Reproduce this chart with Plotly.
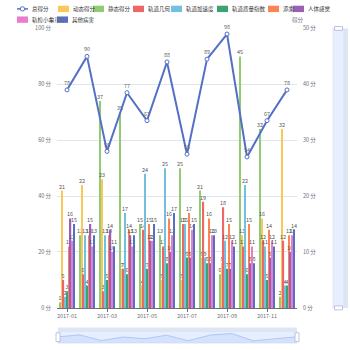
import plotly.graph_objects as go

W = H = 350

# ---------------- data ----------------
months = ['2017-01', '2017-02', '2017-03', '2017-04', '2017-05', '2017-06',
          '2017-07', '2017-08', '2017-09', '2017-10', '2017-11', '2017-12']
tick_months = months[::2]

total_score = [78, 90, 56, 77, 67, 88, 55, 89, 98, 54, 67, 78]

static_score = [1, 13, 37, 35, 15, 13, 25, 21, 6, 45, 32, 2]
dynamic_score = [21, 22, 23, 7, 4, 5, 5, 9, 8, 13, 16, 32]
track_geometry = [5, 6, 3, 7, 14, 11, 15, 19, 18, 11, 12, 12]
track_accel = [2, 13, 13, 17, 24, 25, 15, 9, 12, 22, 11, 4]
track_tqi = [3, 4, 5, 6, 7, 8, 9, 8, 7, 6, 5, 4]
cab_ride = [11, 13, 13, 14, 15, 16, 17, 16, 15, 15, 14, 13]
body_feel = [16, 15, 14, 13, 12, 10, 9, 8, 7, 8, 9, 10]
trolley = [12, 11, 10, 11, 12, 13, 14, 13, 12, 11, 12, 13]
other_defects = [15, 13, 11, 13, 15, 17, 15, 13, 11, 8, 11, 14]

bar_names = ['静态得分', '动态得分', '轨道几何', '轨道加速度', '轨道质量指数',
             '添乘', '人体感觉', '轨检小车', '其他病害']
bar_values = [static_score, dynamic_score, track_geometry, track_accel, track_tqi,
              cab_ride, body_feel, trolley, other_defects]
bar_colors = ['#91cc75', '#fac858', '#ee6666', '#73c0de', '#3ba272',
              '#fc8452', '#9a60b4', '#ea7ccc', '#5470c6']
line_name = '总得分'
line_color = '#5470c6'

legend_names = ['总得分', '动态得分', '静态得分', '轨道几何', '轨道加速度',
                '轨道质量指数', '添乘', '人体感觉', '轨检小车', '其他病害']
legend_colors = [line_color, '#fac858', '#91cc75', '#ee6666', '#73c0de',
                 '#3ba272', '#fc8452', '#9a60b4', '#ea7ccc', '#5470c6']

# ---------------- styling / layout helpers ----------------
FONT = 'Noto Sans CJK SC, sans-serif'
AXIS_C = '#6E7079'
FS = 5.5


def px(x):
    return x / W


def py(y):
    return 1 - y / H


PLOT_L, PLOT_R, PLOT_T, PLOT_B = 57, 297, 25, 311

fig = go.Figure()

for name, vals, col in zip(bar_names, bar_values, bar_colors):
    fig.add_trace(go.Bar(
        x=months, y=vals, name=name,
        marker=dict(color=col, line=dict(width=0)),
        text=vals, textposition='outside', textangle=0,
        constraintext='none', cliponaxis=False,
        textfont=dict(size=FS, color='#555', family=FONT),
        xaxis='x', yaxis='y'))

fig.add_trace(go.Scatter(
    x=months, y=total_score, name=line_name,
    mode='lines+markers+text', text=total_score, textposition='top center',
    line=dict(color=line_color, width=2),
    marker=dict(size=4, color='white', line=dict(color=line_color, width=1)),
    textfont=dict(size=FS, color='#666', family=FONT),
    cliponaxis=False, xaxis='x', yaxis='y2'))

# data shadow of the bottom slider (from total score)
lo, hi = min(total_score), max(total_score)
off = (hi - lo) * 0.3
fig.add_trace(go.Scatter(
    x=list(range(len(total_score))), y=total_score, mode='lines',
    fill='tozeroy', line=dict(color='#8fb0f7', width=0.6),
    fillcolor='rgba(143,176,247,0.2)', hoverinfo='skip',
    xaxis='x2', yaxis='y3'))

shapes = []
annotations = []

# slider (bottom)
SB_T, SB_B = 335, 347
shapes.append(dict(type='rect', xref='paper', yref='paper',
                   x0=px(PLOT_L + 1), x1=px(PLOT_R), y0=py(SB_B), y1=py(SB_T),
                   fillcolor='rgba(135,175,255,0.2)', line=dict(color='#d2dbee', width=0.6),
                   layer='below'))
shapes.append(dict(type='rect', xref='paper', yref='paper',
                   x0=px(PLOT_L + 1), x1=px(PLOT_R), y0=py(SB_T), y1=py(SB_T - 4),
                   fillcolor='rgba(210,219,238,0.7)', line=dict(width=0), layer='below'))
for hx in (PLOT_L + 1, PLOT_R):
    shapes.append(dict(type='rect', xref='paper', yref='paper',
                       x0=px(hx - 2), x1=px(hx + 2), y0=py(SB_B - 1.5), y1=py(SB_T + 1.5),
                       fillcolor='white', line=dict(color='#ACB8D1', width=0.8)))

# slider (right, vertical)
SR_L, SR_R = 333, 344
shapes.append(dict(type='rect', xref='paper', yref='paper',
                   x0=px(SR_L), x1=px(SR_R), y0=py(PLOT_B), y1=py(PLOT_T),
                   fillcolor='rgba(135,175,255,0.2)', line=dict(color='#d2dbee', width=0.6),
                   layer='below'))
shapes.append(dict(type='rect', xref='paper', yref='paper',
                   x0=px(SR_R), x1=px(SR_R + 4), y0=py(PLOT_B), y1=py(PLOT_T),
                   fillcolor='rgba(210,219,238,0.7)', line=dict(width=0), layer='below'))
for hy in (PLOT_T, PLOT_B):
    shapes.append(dict(type='rect', xref='paper', yref='paper',
                       x0=px(SR_L + 1.5), x1=px(SR_R - 1.5), y0=py(hy + 2), y1=py(hy - 2),
                       fillcolor='white', line=dict(color='#ACB8D1', width=0.8)))

# axis names
annotations.append(dict(text='总得分', x=px(PLOT_L), y=py(16), xref='paper', yref='paper',
                        showarrow=False, xanchor='center', yanchor='middle',
                        font=dict(size=FS, color=AXIS_C, family=FONT)))
annotations.append(dict(text='得分', x=px(PLOT_R + 1), y=py(16), xref='paper', yref='paper',
                        showarrow=False, xanchor='center', yanchor='middle',
                        font=dict(size=FS, color=AXIS_C, family=FONT)))

# legend (drawn manually)
leg_x = [17, 58, 93, 133, 171, 217, 268, 293, 17, 57]
leg_row_y = [5, 16]
leg_row = [0, 0, 0, 0, 0, 0, 0, 0, 1, 1]
IW, IH = 11, 6.5
for i, (nm, col) in enumerate(zip(legend_names, legend_colors)):
    x0 = leg_x[i]
    yc = leg_row_y[leg_row[i]]
    if i == 0:
        shapes.append(dict(type='line', xref='paper', yref='paper',
                           x0=px(x0), x1=px(x0 + IW), y0=py(yc), y1=py(yc),
                           line=dict(color=col, width=1.5)))
        shapes.append(dict(type='circle', xref='paper', yref='paper',
                           x0=px(x0 + IW / 2 - 2.2), x1=px(x0 + IW / 2 + 2.2),
                           y0=py(yc + 2.2), y1=py(yc - 2.2),
                           fillcolor='white', line=dict(color=col, width=1)))
    else:
        shapes.append(dict(type='rect', xref='paper', yref='paper',
                           x0=px(x0), x1=px(x0 + IW), y0=py(yc + IH / 2), y1=py(yc - IH / 2),
                           fillcolor=col, line=dict(width=0)))
    annotations.append(dict(text=nm, x=px(x0 + IW + 2), y=py(yc), xref='paper', yref='paper',
                            showarrow=False, xanchor='left', yanchor='middle',
                            font=dict(size=FS, color='#333', family=FONT)))

fig.update_layout(
    width=W, height=H, margin=dict(l=0, r=0, t=0, b=0),
    paper_bgcolor='white', plot_bgcolor='white',
    showlegend=False, barmode='group', bargap=0.2, bargroupgap=0.25,
    font=dict(family=FONT, size=FS, color=AXIS_C),
    xaxis=dict(domain=[px(PLOT_L), px(PLOT_R)], anchor='y', type='category',
               categoryorder='array', categoryarray=months, range=[-0.5, len(months) - 0.5],
               tickmode='array', tickvals=tick_months, ticks='outside', ticklen=3,
               tickwidth=1, tickcolor=AXIS_C, showline=True, linecolor=AXIS_C, linewidth=1,
               tickfont=dict(size=FS, color=AXIS_C), showgrid=False, zeroline=False,
               fixedrange=True),
    yaxis=dict(domain=[py(PLOT_B), py(PLOT_T)], anchor='x', side='right', range=[0, 50],
               tickmode='linear', tick0=0, dtick=10, ticksuffix=' 分', showgrid=True,
               gridcolor='#E0E6F1', gridwidth=1, zeroline=False, showline=False,
               tickfont=dict(size=FS, color=AXIS_C), ticklabelstandoff=5, fixedrange=True),
    yaxis2=dict(overlaying='y', anchor='x', side='left', range=[0, 100],
                tickmode='linear', tick0=0, dtick=20, ticksuffix=' 分', showgrid=False,
                zeroline=False, showline=False, tickfont=dict(size=FS, color=AXIS_C),
                ticklabelstandoff=5, fixedrange=True),
    xaxis2=dict(domain=[px(PLOT_L + 1), px(PLOT_R)], anchor='y3', range=[0, len(total_score) - 1],
                visible=False, fixedrange=True),
    yaxis3=dict(domain=[py(SB_B), py(SB_T)], anchor='x2', range=[lo - off, hi + off],
                visible=False, fixedrange=True),
    shapes=shapes, annotations=annotations,
)

fig.write_html('out.html')
